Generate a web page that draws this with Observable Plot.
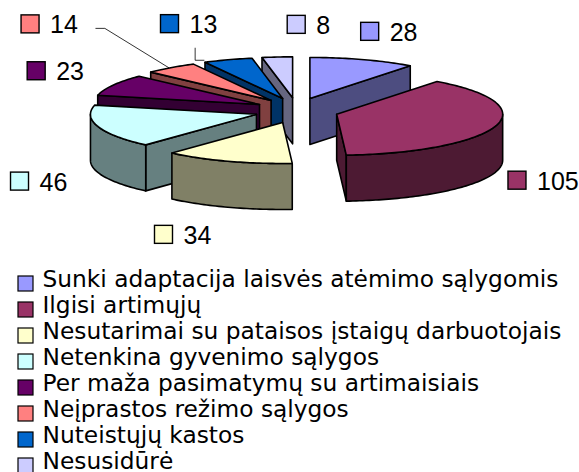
<!DOCTYPE html>
<html><head><meta charset="utf-8">
<script src="https://cdn.jsdelivr.net/npm/d3@7"></script>
<script src="https://cdn.jsdelivr.net/npm/@observablehq/plot@0.6"></script>
<style>html,body{margin:0;padding:0;background:#fff;overflow:hidden}</style>
</head><body><div id="chart"></div>
<script>
// ---- data ----
const categories = [
  "Sunki adaptacija laisvės atėmimo sąlygomis",
  "Ilgisi artimųjų",
  "Nesutarimai su pataisos įstaigų darbuotojais",
  "Netenkina gyvenimo sąlygos",
  "Per maža pasimatymų su artimaisiais",
  "Neįprastos režimo sąlygos",
  "Nuteistųjų kastos",
  "Nesusidūrė"
];
const values = [28, 105, 34, 46, 23, 14, 13, 8];
const colors = ["#9999FF", "#993366", "#FFFFCC", "#CCFFFF", "#660066", "#FF8080", "#0066CC", "#CCCCFF"];

// ---- layout ----
const W = 579, H = 472;
const pie = {cx: 296, cy: 110, rx: 166, ry: 41, depth: 46, explodeX: 0.253, explodeY: 0.31,
             labelRx: 231, labelRy: 83, labelShiftX: -9};
const labelMove = {5: [-70, -20], 6: [6, -8], 7: [64, -3]}; // labels dragged away in the original
const labelFont = 25, keySize = 18, keyGap = 10.5;
const legend = {keyX: 18, keySize: 15, textX: 42, top: 286, step: 26, font: 23.3};
const edge = 1.6;

// ---- geometry ----
const total = d3.sum(values);
let acc = 0;
const slices = values.map((v, i) => {
  const a0 = acc / total * 2 * Math.PI; acc += v;
  const a1 = acc / total * 2 * Math.PI; const mid = (a0 + a1) / 2;
  const tip = [pie.cx + pie.explodeX * pie.rx * Math.sin(mid), pie.cy - pie.explodeY * pie.ry * Math.cos(mid)];
  return {i, v, a0, a1, mid, tip, color: colors[i]};
});
const P = (tip, t, dz = 0) => [tip[0] + pie.rx * Math.sin(t), tip[1] - pie.ry * Math.cos(t) + dz];
const arc = (tip, t0, t1, dz = 0) => {
  const n = Math.max(2, Math.ceil(Math.abs(t1 - t0) / 0.02));
  return d3.range(n + 1).map(k => P(tip, t0 + (t1 - t0) * k / n, dz));
};
const shade = c => { const r = d3.rgb(c); return d3.rgb(r.r * 0.5, r.g * 0.5, r.b * 0.5).formatHex(); };

const polys = [];
slices.slice().sort((a, b) => Math.cos(b.mid) - Math.cos(a.mid)).forEach(s => {
  const d = pie.depth, dark = shade(s.color), T = s.tip, Tb = [T[0], T[1] + d];
  if (Math.sin(s.a0) < -1e-6) polys.push({fill: dark, pts: [T, P(T, s.a0), P(T, s.a0, d), Tb]});
  if (Math.sin(s.a1) > 1e-6) polys.push({fill: dark, pts: [T, P(T, s.a1), P(T, s.a1, d), Tb]});
  const lo = Math.max(s.a0, Math.PI / 2), hi = Math.min(s.a1, 3 * Math.PI / 2);
  if (hi > lo) polys.push({fill: dark, pts: [...arc(T, lo, hi), ...arc(T, hi, lo, d)]});
  polys.push({fill: s.color, pts: [T, ...arc(T, s.a0, s.a1)]});
});

// ---- data labels ----
const labels = slices.map(s => {
  const txt = String(s.v);
  const w = keySize + keyGap + txt.length * 0.556 * labelFont;
  const sx = Math.sin(s.mid), cz = Math.cos(s.mid);
  let x = pie.cx + pie.labelShiftX + sx * pie.labelRx + Math.sign(sx) * w / 2;
  let y = pie.cy - cz * pie.labelRy + (cz < 0 ? pie.depth : 0);
  if (labelMove[s.i]) { x += labelMove[s.i][0]; y += labelMove[s.i][1]; }
  const left = x - w / 2;
  return {txt, color: s.color, x, y, w, left, right: x + w / 2, s};
});
const leaders = [];
{
  const l14 = labels[5], s14 = slices[5];
  const end = P(s14.tip, s14.mid);
  leaders.push([[l14.right + 18, l14.y + 4], [l14.right + 27, l14.y + 4], [end[0] - 2, end[1]]]);
  const l13 = labels[6], s13 = slices[6];
  const c = P(s13.tip, s13.a0);
  leaders.push([[l13.x + 6, l13.y + 24], [l13.x + 6, c[1] - 2], [c[0] - 1, c[1] - 2]]);
}

// ---- legend ----
const legendData = categories.map((c, i) => ({c, color: colors[i], base: legend.top + i * legend.step}));

const marks = [];
polys.forEach(p => marks.push(Plot.line([...p.pts, p.pts[0]], {
  x: d => d[0], y: d => d[1], fill: p.fill, stroke: "black", strokeWidth: edge, strokeLinejoin: "round"
})));
leaders.forEach(L => marks.push(Plot.line(L, {x: d => d[0], y: d => d[1], stroke: "black", strokeWidth: 0.8})));
marks.push(Plot.rect(labels, {
  x1: d => d.left, x2: d => d.left + keySize, y1: d => d.y - keySize / 2, y2: d => d.y + keySize / 2,
  fill: d => d.color, stroke: "black", strokeWidth: 1.4
}));
marks.push(Plot.text(labels, {
  x: d => d.left + keySize + keyGap, y: d => d.y + keySize / 2, text: d => d.txt,
  textAnchor: "start", lineAnchor: "bottom", fontFamily: "Liberation Sans, Arial, sans-serif",
  fontSize: labelFont, fill: "black"
}));
marks.push(Plot.rect(legendData, {
  x1: () => legend.keyX, x2: () => legend.keyX + legend.keySize,
  y1: d => d.base - 10, y2: d => d.base - 10 + legend.keySize,
  fill: d => d.color, stroke: "black", strokeWidth: 1.2
}));
marks.push(Plot.text(legendData, {
  x: () => legend.textX, y: d => d.base, text: d => d.c, textAnchor: "start", lineAnchor: "bottom",
  fontFamily: "DejaVu Sans, sans-serif", fontSize: legend.font, fill: "black"
}));

const chart = Plot.plot({
  width: W, height: H, margin: 0,
  x: {domain: [0, W], range: [0, W], axis: null},
  y: {domain: [0, H], range: [0, H], axis: null},
  color: {type: "identity"},
  style: {background: "white"},
  marks
});
document.getElementById("chart").appendChild(chart);
</script>
</body></html>
